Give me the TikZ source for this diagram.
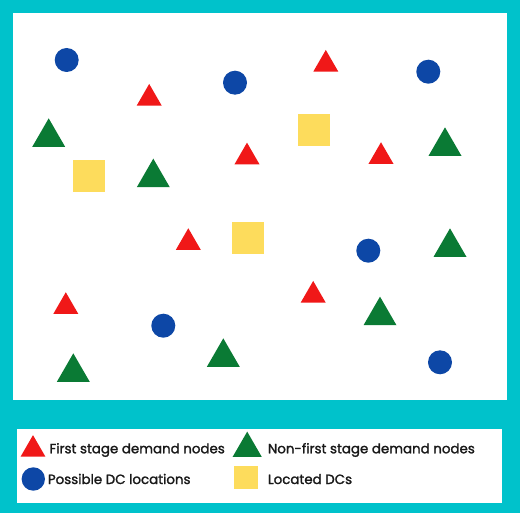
\documentclass[tikz,border=0pt]{standalone}
\usepackage{fontspec}
\setmainfont{Poppins}
\newfontfamily\legfont[FakeBold=1.6]{Poppins}
\usetikzlibrary{shapes.geometric}
\definecolor{teal}{HTML}{00C2CB}
\definecolor{tred}{HTML}{F01818}
\definecolor{tgreen}{HTML}{0A7A34}
\definecolor{tblue}{HTML}{0D47A6}
\definecolor{tyellow}{HTML}{FDDC5C}
\tikzset{
  redtri/.style={regular polygon, regular polygon sides=3, fill=tred, draw=none, inner sep=0pt, minimum size=28.9pt},
  greentri/.style={regular polygon, regular polygon sides=3, fill=tgreen, draw=none, inner sep=0pt, minimum size=38.1pt},
  bluedot/.style={circle, fill=tblue, draw=none, inner sep=0pt, minimum size=24pt},
  yellowsq/.style={rectangle, fill=tyellow, draw=none, inner sep=0pt, minimum size=32pt},
  legtext/.style={anchor=base west, inner sep=0pt, font=\legfont\fontsize{13.4}{16}\selectfont, text=black!90}
}
\begin{document}
\begin{tikzpicture}[x=1pt,y=-1pt]
\fill[teal] (0,0) rectangle (520,513);
\useasboundingbox (0,0) rectangle (520,513);
\fill[white] (13,13) rectangle (507,400);
\fill[white] (17,429) rectangle (502,503);
% blue circles
\node[bluedot] (b1) at (66.7,60) {};
\node[bluedot] (b2) at (235,82.7) {};
\node[bluedot] (b3) at (428.3,71.7) {};
\node[bluedot] (b4) at (368.3,250.7) {};
\node[bluedot] (b5) at (163.3,325.7) {};
\node[bluedot] (b6) at (440,362.3) {};
% red triangles
\node[redtri] (r1) at (149.2,98.4) {};
\node[redtri] (r2) at (247,157.1) {};
\node[redtri] (r3) at (325.8,64.4) {};
\node[redtri] (r4) at (381,156.7) {};
\node[redtri] (r5) at (188.3,242.7) {};
\node[redtri] (r6) at (65.8,306.7) {};
\node[redtri] (r7) at (313.2,295.4) {};
% green triangles
\node[greentri] (g1) at (48.7,137.4) {};
\node[greentri] (g2) at (153.3,177.7) {};
\node[greentri] (g3) at (445,146.4) {};
\node[greentri] (g4) at (450,247.4) {};
\node[greentri] (g5) at (380,315.7) {};
\node[greentri] (g6) at (223.3,357.4) {};
\node[greentri] (g7) at (73.3,372.4) {};
% yellow squares
\node[yellowsq] (y1) at (89.2,175.8) {};
\node[yellowsq] (y2) at (313.5,129.7) {};
\node[yellowsq] (y3) at (248,238.5) {};
% legend
\node[redtri, minimum size=28.5pt] (lr) at (33,449.4) {};
\node[legtext] (lrt) at (49.3,453.3) {First stage demand nodes};
\node[greentri, minimum size=33.5pt] (lg) at (247.2,448.4) {};
\node[legtext] (lgt) at (267.7,453.3) {Non-first stage demand nodes};
\node[bluedot, minimum size=23.4pt] (lb) at (33.3,479) {};
\node[legtext] (lbt) at (47.7,484) {Possible DC locations};
\node[yellowsq, minimum width=24pt, minimum height=23.3pt] (ly) at (246.3,477.7) {};
\node[legtext] (lyt) at (267.7,484) {Located DCs};
\end{tikzpicture}
\end{document}
